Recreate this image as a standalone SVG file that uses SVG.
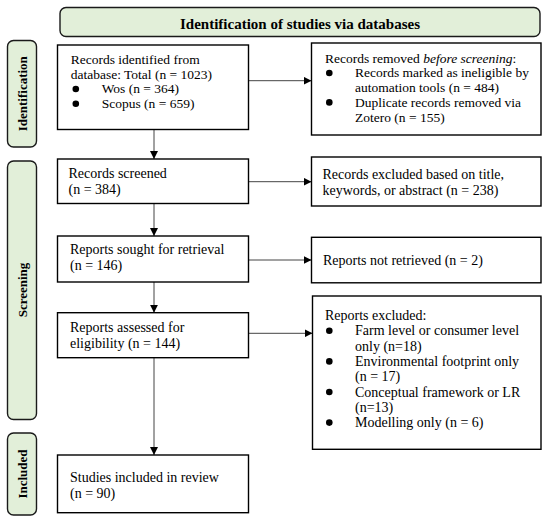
<svg xmlns="http://www.w3.org/2000/svg" width="550" height="522" viewBox="0 0 550 522">
<style>
.box{fill:#fff;stroke:#000;stroke-width:1.4}
.lab{fill:#e2efd9;stroke:#1a1a1a;stroke-width:1.4}
.t{font-family:"Liberation Serif","Times New Roman",serif;font-size:14px;fill:#000}
.s{font-size:13.5px}
.b{font-family:"Liberation Serif","Times New Roman",serif;font-weight:bold;fill:#000}
.c{stroke:#444;stroke-width:1;fill:none}
.dot{fill:#000}
</style>
<defs>
<marker id="ah" markerUnits="userSpaceOnUse" markerWidth="8" markerHeight="8" refX="8" refY="4" orient="auto">
<path d="M0,0 L8,4 L0,8 z" fill="#000"/>
</marker>
</defs>
<rect width="550" height="522" fill="#fff"/>

<g id="header">
<rect class="lab" x="60" y="7.5" width="480" height="29" rx="6"/>
<text class="b" x="300" y="29" font-size="15" text-anchor="middle">Identification of studies via databases</text>
</g>

<g id="stage-identification">
<rect class="lab" x="7.5" y="40.5" width="29" height="106.5" rx="6"/>
<text class="b" font-size="13" text-anchor="middle" transform="translate(26.5,93.7) rotate(-90)">Identification</text>
</g>
<g id="stage-screening">
<rect class="lab" x="7.5" y="161" width="29" height="258.5" rx="6"/>
<text class="b" font-size="13" text-anchor="middle" transform="translate(26.5,290) rotate(-90)">Screening</text>
</g>
<g id="stage-included">
<rect class="lab" x="7.5" y="433" width="29" height="82" rx="6"/>
<text class="b" font-size="13" text-anchor="middle" transform="translate(26.5,474) rotate(-90)">Included</text>
</g>

<g id="connectors">
<line class="c" x1="248.5" y1="80.7" x2="311.5" y2="80.7" marker-end="url(#ah)"/>
<line class="c" x1="248.5" y1="181.7" x2="311.5" y2="181.7" marker-end="url(#ah)"/>
<line class="c" x1="248.5" y1="260" x2="311.5" y2="260" marker-end="url(#ah)"/>
<line class="c" x1="248.5" y1="333.3" x2="312.5" y2="333.3" marker-end="url(#ah)"/>
<line class="c" x1="154" y1="129.5" x2="154" y2="159" marker-end="url(#ah)"/>
<line class="c" x1="154" y1="203.5" x2="154" y2="236" marker-end="url(#ah)"/>
<line class="c" x1="154" y1="282" x2="154" y2="312.7" marker-end="url(#ah)"/>
<line class="c" x1="154" y1="357.7" x2="154" y2="455" marker-end="url(#ah)"/>
</g>

<g id="records-identified">
<rect class="box" x="57.5" y="45" width="191" height="84.5"/>
<text class="t s" x="70.7" y="64">Records identified from</text>
<text class="t s" x="70.7" y="78.7">database: Total (n = 1023)</text>
<circle class="dot" cx="75.8" cy="89" r="3.3"/>
<text class="t s" x="101.7" y="93.4">Wos (n = 364)</text>
<circle class="dot" cx="75.8" cy="103.7" r="3.3"/>
<text class="t s" x="101.7" y="108.1">Scopus (n = 659)</text>
</g>

<g id="records-removed">
<rect class="box" x="311.5" y="43" width="229.5" height="92"/>
<text class="t s" x="325" y="62.7">Records removed <tspan font-style="italic">before screening</tspan>:</text>
<circle class="dot" cx="329.3" cy="73" r="3.3"/>
<text class="t s" x="355" y="77.3">Records marked as ineligible by</text>
<text class="t s" x="355" y="92.2">automation tools (n = 484)</text>
<circle class="dot" cx="329.3" cy="102.4" r="3.3"/>
<text class="t s" x="355" y="106.8">Duplicate records removed via</text>
<text class="t s" x="355" y="121.7">Zotero (n = 155)</text>
</g>

<g id="records-screened">
<rect class="box" x="57.5" y="159" width="191" height="44.5"/>
<text class="t" x="68.5" y="177.5">Records screened</text>
<text class="t" x="68.5" y="193.5">(n = 384)</text>
</g>

<g id="records-excluded">
<rect class="box" x="311.5" y="157" width="229.5" height="49"/>
<text class="t" x="322.5" y="178.5">Records excluded based on title,</text>
<text class="t" x="322.5" y="194.5">keywords, or abstract (n = 238)</text>
</g>

<g id="reports-sought">
<rect class="box" x="57.5" y="236" width="191" height="46"/>
<text class="t" x="70" y="254">Reports sought for retrieval</text>
<text class="t" x="70" y="270">(n = 146)</text>
</g>

<g id="reports-not-retrieved">
<rect class="box" x="311.5" y="237.3" width="229.5" height="45.5"/>
<text class="t" x="323" y="265">Reports not retrieved (n = 2)</text>
</g>

<g id="reports-assessed">
<rect class="box" x="57.5" y="312.7" width="191" height="45"/>
<text class="t" x="70" y="332">Reports assessed  for</text>
<text class="t" x="70" y="347.5">eligibility (n = 144)</text>
</g>

<g id="reports-excluded">
<rect class="box" x="312.5" y="296" width="228.5" height="153.3"/>
<text class="t" x="325" y="320">Reports excluded:</text>
<circle class="dot" cx="329.3" cy="330.8" r="3.3"/>
<text class="t" x="355" y="335.3">Farm level or consumer level</text>
<text class="t" x="355" y="350.6">only (n=18)</text>
<circle class="dot" cx="329.3" cy="361.4" r="3.3"/>
<text class="t" x="355" y="365.9">Environmental footprint only</text>
<text class="t" x="355" y="381.2">(n = 17)</text>
<circle class="dot" cx="329.3" cy="392" r="3.3"/>
<text class="t" x="355" y="396.5">Conceptual framework or LR</text>
<text class="t" x="355" y="411.8">(n=13)</text>
<circle class="dot" cx="329.3" cy="422.6" r="3.3"/>
<text class="t" x="355" y="427.1">Modelling only (n = 6)</text>
</g>

<g id="studies-included">
<rect class="box" x="57.5" y="455" width="191" height="57.7"/>
<text class="t" x="70" y="482">Studies included in review</text>
<text class="t" x="70" y="497.5">(n = 90)</text>
</g>
</svg>
